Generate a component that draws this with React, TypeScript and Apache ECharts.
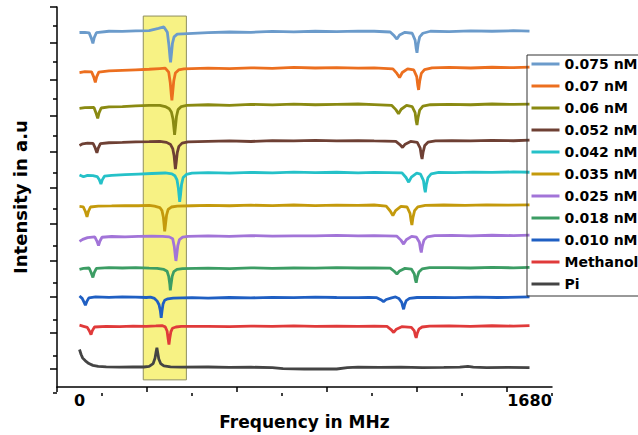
import React, { useEffect, useRef } from "react";
import * as echarts from "echarts";

type Pt = [number, number];

const seriesNames = ["0.075 nM", "0.07 nM", "0.06 nM", "0.052 nM", "0.042 nM", "0.035 nM", "0.025 nM", "0.018 nM", "0.010 nM", "Methanol", "Pi"];
const seriesColors = ["#6b9bcb", "#ec6f1f", "#8a8a12", "#6e4034", "#25c1c8", "#c49a0c", "#a274d8", "#3c9d64", "#1f5fc3", "#e03a3a", "#444444"];

const s075: Pt[] = [[0,19.59],[20,19.6],[36,19.57],[44,19.28],[50,18.99],[55,19.31],[63,19.58],[110,19.66],[160,19.65],[210,19.68],[260,19.7],[295,19.82],[315,19.9],[328,19.6],[334,18.87],[338,18.2],[340,17.94],[343,18.37],[347,18.99],[353,19.35],[365,19.5],[385,19.52],[480,19.58],[560,19.62],[640,19.6],[720,19.65],[800,19.63],[880,19.66],[960,19.64],[1040,19.67],[1100,19.66],[1160,19.62],[1175,19.41],[1185,19.23],[1195,19.45],[1215,19.6],[1242,19.55],[1253,19.17],[1257,18.7],[1260,18.47],[1264,18.94],[1270,19.35],[1282,19.55],[1310,19.66],[1380,19.64],[1460,19.68],[1540,19.66],[1620,19.69],[1680,19.67]];
const s07: Pt[] = [[0,17.38],[20,17.43],[45,17.42],[53,17.14],[59,16.84],[64,17.14],[72,17.4],[110,17.47],[160,17.5],[210,17.53],[260,17.56],[300,17.6],[320,17.62],[333,17.4],[339,16.8],[343,16.1],[345,15.84],[348,16.3],[352,16.93],[358,17.35],[370,17.52],[390,17.58],[480,17.62],[560,17.6],[640,17.64],[720,17.61],[800,17.66],[880,17.63],[960,17.65],[1040,17.62],[1100,17.64],[1170,17.58],[1185,17.33],[1195,17.1],[1205,17.38],[1225,17.58],[1248,17.52],[1259,17.15],[1263,16.66],[1266,16.42],[1270,16.9],[1276,17.33],[1288,17.54],[1316,17.64],[1380,17.66],[1460,17.63],[1540,17.67],[1620,17.65],[1680,17.68]];
const s06: Pt[] = [[0,15.4],[20,15.44],[54,15.45],[62,15.13],[68,14.85],[73,15.15],[81,15.42],[110,15.48],[160,15.5],[210,15.54],[260,15.56],[300,15.57],[320,15.5],[335,15.38],[343,15.2],[349,14.82],[353,14.25],[355,13.94],[358,14.35],[362,14.95],[368,15.33],[380,15.5],[400,15.56],[480,15.6],[560,15.57],[640,15.62],[720,15.59],[800,15.63],[880,15.6],[960,15.62],[1040,15.64],[1100,15.61],[1166,15.56],[1181,15.33],[1191,15.1],[1201,15.35],[1221,15.56],[1242,15.5],[1253,15.16],[1257,14.7],[1260,14.48],[1264,14.9],[1270,15.3],[1282,15.52],[1310,15.6],[1380,15.62],[1460,15.6],[1540,15.64],[1620,15.62],[1680,15.63]];
const s052: Pt[] = [[0,13.35],[12,13.44],[30,13.48],[51,13.46],[59,13.2],[65,12.94],[70,13.2],[78,13.45],[110,13.5],[160,13.52],[210,13.55],[260,13.56],[300,13.58],[325,13.52],[340,13.4],[348,13.18],[353,12.8],[356,12.35],[358,12.04],[361,12.4],[365,12.95],[371,13.3],[383,13.48],[405,13.55],[480,13.58],[560,13.6],[640,13.57],[720,13.62],[800,13.6],[880,13.63],[960,13.6],[1040,13.62],[1100,13.6],[1181,13.58],[1196,13.4],[1206,13.24],[1216,13.42],[1236,13.57],[1261,13.52],[1272,13.2],[1276,12.8],[1279,12.6],[1283,13.0],[1289,13.35],[1301,13.53],[1329,13.6],[1390,13.62],[1460,13.6],[1540,13.63],[1620,13.61],[1680,13.64]];
const s042: Pt[] = [[0,11.72],[15,11.62],[30,11.7],[50,11.68],[66,11.63],[74,11.45],[80,11.22],[85,11.45],[93,11.65],[120,11.7],[170,11.74],[220,11.77],[270,11.8],[320,11.83],[345,11.78],[356,11.68],[364,11.45],[369,11.0],[372,10.55],[374,10.23],[377,10.6],[381,11.2],[387,11.58],[399,11.75],[420,11.82],[480,11.85],[560,11.82],[640,11.86],[720,11.84],[800,11.88],[880,11.85],[960,11.87],[1040,11.84],[1100,11.86],[1204,11.84],[1219,11.58],[1229,11.32],[1239,11.6],[1259,11.82],[1273,11.77],[1284,11.42],[1288,10.98],[1291,10.76],[1295,11.2],[1301,11.57],[1313,11.78],[1341,11.86],[1400,11.85],[1470,11.88],[1540,11.86],[1620,11.89],[1680,11.87]];
const s035: Pt[] = [[0,9.98],[14,9.96],[22,9.7],[28,9.41],[33,9.7],[41,9.95],[70,10.0],[120,10.01],[170,10.03],[220,10.02],[260,10.04],[280,10.0],[300,9.92],[308,9.75],[313,9.4],[316,8.95],[318,8.6],[321,8.98],[325,9.5],[331,9.82],[343,9.95],[365,10.0],[420,10.02],[480,10.04],[560,10.02],[640,10.05],[720,10.03],[800,10.06],[880,10.03],[960,10.05],[1040,10.04],[1100,10.06],[1145,10.0],[1160,9.73],[1170,9.48],[1180,9.75],[1200,9.98],[1223,9.95],[1234,9.6],[1238,9.18],[1241,8.95],[1245,9.38],[1251,9.75],[1263,9.96],[1291,10.04],[1360,10.06],[1440,10.04],[1520,10.07],[1600,10.05],[1680,10.07]];
const s025: Pt[] = [[0,8.05],[12,8.16],[30,8.26],[57,8.3],[65,8.07],[71,7.82],[76,8.06],[84,8.28],[120,8.32],[170,8.3],[220,8.33],[270,8.34],[310,8.33],[335,8.3],[348,8.2],[354,7.75],[358,7.2],[360,6.97],[363,7.3],[367,7.82],[373,8.15],[385,8.28],[405,8.33],[480,8.35],[560,8.33],[640,8.37],[720,8.34],[800,8.36],[880,8.35],[960,8.38],[1040,8.36],[1100,8.37],[1185,8.34],[1200,8.12],[1210,7.9],[1220,8.14],[1240,8.33],[1258,8.28],[1269,8.0],[1273,7.62],[1276,7.44],[1280,7.8],[1286,8.12],[1298,8.3],[1326,8.37],[1390,8.38],[1460,8.36],[1540,8.39],[1620,8.37],[1680,8.4]];
const s018: Pt[] = [[0,6.5],[15,6.56],[36,6.58],[44,6.3],[50,6.06],[55,6.32],[63,6.56],[110,6.6],[160,6.58],[210,6.6],[260,6.57],[290,6.56],[315,6.5],[327,6.4],[333,6.12],[337,5.7],[339,5.34],[342,5.7],[346,6.12],[352,6.38],[364,6.5],[385,6.55],[480,6.57],[560,6.55],[640,6.59],[720,6.56],[800,6.58],[880,6.57],[960,6.6],[1040,6.58],[1100,6.59],[1160,6.57],[1175,6.4],[1185,6.25],[1195,6.42],[1215,6.56],[1239,6.52],[1250,6.25],[1254,5.92],[1257,5.77],[1261,6.08],[1267,6.36],[1279,6.53],[1307,6.6],[1380,6.6],[1460,6.58],[1540,6.61],[1620,6.59],[1680,6.62]];
const s010: Pt[] = [[0,5.03],[10,4.9],[16,4.72],[22,4.52],[27,4.72],[35,4.93],[60,4.98],[110,4.96],[160,4.98],[210,4.97],[250,4.95],[265,4.97],[280,4.9],[290,4.75],[297,4.55],[302,4.2],[305,3.82],[308,4.2],[312,4.6],[318,4.8],[330,4.88],[350,4.92],[420,4.94],[480,4.92],[560,4.95],[640,4.93],[720,4.96],[800,4.94],[880,4.97],[960,4.95],[1040,4.94],[1080,4.95],[1110,4.94],[1125,4.83],[1135,4.72],[1145,4.84],[1165,4.93],[1180,4.98],[1192,4.9],[1203,4.68],[1207,4.45],[1210,4.3],[1214,4.55],[1220,4.78],[1232,4.9],[1260,4.95],[1320,4.96],[1400,4.94],[1480,4.97],[1560,4.95],[1680,4.98]];
const sMethanol: Pt[] = [[0,3.42],[15,3.36],[29,3.3],[37,3.1],[43,2.9],[48,3.12],[56,3.32],[100,3.36],[150,3.34],[200,3.37],[250,3.35],[285,3.38],[308,3.4],[320,3.33],[327,3.1],[331,2.65],[334,2.35],[337,2.7],[341,3.05],[347,3.25],[360,3.32],[380,3.35],[480,3.36],[560,3.34],[640,3.37],[720,3.35],[800,3.38],[880,3.36],[960,3.37],[1040,3.35],[1100,3.37],[1148,3.35],[1163,3.18],[1173,3.02],[1183,3.2],[1203,3.34],[1239,3.3],[1250,3.1],[1254,2.84],[1257,2.72],[1261,2.98],[1267,3.2],[1279,3.32],[1307,3.37],[1380,3.38],[1460,3.36],[1540,3.39],[1620,3.37],[1680,3.4]];
const sPi: Pt[] = [[0,2.08],[6,1.8],[12,1.6],[22,1.45],[35,1.3],[50,1.2],[70,1.14],[100,1.12],[150,1.1],[200,1.12],[240,1.11],[260,1.15],[275,1.3],[282,1.6],[286,1.95],[289,2.17],[292,1.9],[296,1.55],[303,1.3],[315,1.17],[340,1.12],[380,1.1],[480,1.11],[560,1.09],[640,1.1],[720,1.08],[760,1.02],[840,1.0],[920,1.01],[960,1.0],[1000,1.08],[1040,1.1],[1120,1.09],[1200,1.1],[1280,1.08],[1360,1.09],[1420,1.1],[1450,1.15],[1470,1.1],[1520,1.08],[1600,1.09],[1680,1.08]];

const seriesData: Pt[][] = [s075, s07, s06, s052, s042, s035, s025, s018, s010, sMethanol, sPi];

const highlightFreq = [238, 399];
const highlightIntensity = [0.4, 20.5];

const xRange = [-84, 1764];
const xMajorTicks = [-84, 252, 588, 924, 1260, 1596];
const xMinorTicks = [84, 420, 756, 1092, 1428, 1764];
const xTickLabels = [0, 1680];
const yRange = [0, 21];
const yMajorTicks = [1, 3, 5, 7, 9, 11, 13, 15, 17, 19, 21];
const yMinorTicks = [0, 2, 4, 6, 8, 10, 12, 14, 16, 18, 20];

const FONT = "DejaVu Sans, Verdana, sans-serif";

export default function App() {
  const ref = useRef<HTMLDivElement>(null);
  useEffect(() => {
    const chart = echarts.init(ref.current!, null, { renderer: "svg" });
    const gridRect = { left: 57, right: 86, top: 7, bottom: 42 };
    const tickLine = { color: "#000", width: 1.5 };
    chart.setOption({
      animation: false,
      backgroundColor: "#fff",
      grid: [
        { ...gridRect },
        { ...gridRect },
      ],
      xAxis: [
        {
          type: "value", gridIndex: 0, min: xRange[0], max: xRange[1],
          axisLine: { show: true, onZero: false, lineStyle: tickLine },
          axisTick: { show: true, customValues: xMajorTicks, length: 5, lineStyle: tickLine },
          axisLabel: {
            show: true, customValues: xTickLabels, margin: 5,
            formatter: (v: number) => String(v),
            color: "#000", fontSize: 16, fontWeight: "bold", fontFamily: FONT,
          },
          splitLine: { show: false },
          name: "Frequency in MHz", nameLocation: "middle", nameGap: 19,
          nameTextStyle: { color: "#000", fontSize: 17, fontWeight: "bold", fontFamily: FONT },
        },
        {
          type: "value", gridIndex: 1, min: xRange[0], max: xRange[1],
          axisLine: { show: false, onZero: false },
          axisTick: { show: true, customValues: xMinorTicks, length: 3, lineStyle: tickLine },
          axisLabel: { show: false },
          splitLine: { show: false },
        },
      ],
      yAxis: [
        {
          type: "value", gridIndex: 0, min: yRange[0], max: yRange[1],
          axisLine: { show: true, onZero: false, lineStyle: tickLine },
          axisTick: { show: true, customValues: yMajorTicks, length: 7, lineStyle: tickLine },
          axisLabel: { show: false },
          splitLine: { show: false },
          name: "Intensity in a.u", nameLocation: "middle", nameGap: 28,
          nameTextStyle: { color: "#000", fontSize: 18, fontWeight: "bold", fontFamily: FONT },
        },
        {
          type: "value", gridIndex: 1, min: yRange[0], max: yRange[1],
          axisLine: { show: false, onZero: false },
          axisTick: { show: true, customValues: yMinorTicks, length: 4, lineStyle: tickLine },
          axisLabel: { show: false },
          splitLine: { show: false },
        },
      ],
      legend: {
        data: seriesNames,
        orient: "vertical",
        left: 527,
        top: 55,
        padding: [2, 5, 5, 3],
        itemWidth: 28,
        itemHeight: 14,
        itemGap: 8,
        borderColor: "#333",
        borderWidth: 1,
        itemStyle: { opacity: 0 },
        lineStyle: { width: 3 },
        textStyle: { color: "#000", fontSize: 14, fontWeight: "bold", fontFamily: FONT },
      },
      series: [
        {
          type: "line",
          name: "highlight",
          xAxisIndex: 0,
          yAxisIndex: 0,
          data: [],
          z: 1,
          markArea: {
            silent: true,
            itemStyle: { color: "#f7f284", borderColor: "#8f8f60", borderWidth: 1 },
            data: [[
              { coord: [highlightFreq[0], highlightIntensity[1]] },
              { coord: [highlightFreq[1], highlightIntensity[0]] },
            ]],
          },
        },
        ...seriesNames.map((name, i) => ({
          type: "line",
          name,
          xAxisIndex: 0,
          yAxisIndex: 0,
          data: seriesData[i],
          showSymbol: false,
          symbol: "none",
          z: 2,
          color: seriesColors[i],
          lineStyle: { color: seriesColors[i], width: 2.8 },
        })),
      ],
    });
    return () => chart.dispose();
  }, []);
  return (
    <div
      ref={ref}
      style={{ position: "fixed", left: 0, top: 0, width: 638, height: 435 }}
    />
  );
}
